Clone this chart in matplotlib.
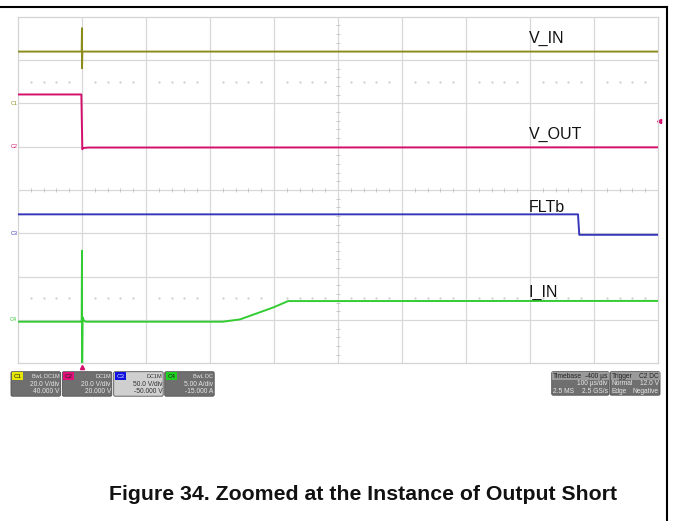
import matplotlib
matplotlib.use('Agg')
import matplotlib.pyplot as plt
from matplotlib.patches import FancyBboxPatch, Rectangle
from matplotlib.lines import Line2D

plt.rcParams['font.family'] = ['Liberation Sans', 'DejaVu Sans']

# time in microseconds (trigger at 0), values in V / A
t_vin = [-100, -0.5, 0, 0, 0.5, 900]
v_in = [23.9, 23.9, 34.7, 16.2, 23.9, 23.9]

t_vout = [-100, -1, 0.5, 2, 10, 900]
v_out = [24.1, 24.1, -1.2, -0.6, -0.4, -0.3]

t_flt = [-100, 775, 777, 900]
v_flt = [21.9, 21.9, -1.7, -1.7]

t_iin = [-100, -0.5, 0, 0, 1, 3, 6, 220, 247, 273, 299, 322, 900]
i_in = [-0.2, -0.2, 8.0, -9.0, 0.3, -0.1, -0.2, -0.2, 0.07, 0.76, 1.45, 2.18, 2.2]

# scope channel settings (volts or amps per division, offset)
ch_names = ['V_IN', 'V_OUT', 'FLTb', 'I_IN']
ch_scale = [20.0, 20.0, 50.0, 5.0]
ch_offset = [40.0, 20.0, -50.0, -15.0]
ch_colors = ['#8c8c1c', '#d4106c', '#3636b8', '#33cc33']
ch_tags = ['C1', 'C2', 'C3', 'C4']
trig_level = 12.0  # on C2

ch_header = ['BwL DC1M', 'DC1M', 'DC1M', 'BwL DC']
ch_vdiv = ['20.0 V/div', '20.0 V/div', '50.0 V/div', '5.00 A/div']
ch_offtxt = ['40.000 V', '20.000 V', '-50.000 V', '-15.000 A']


def to_div(vals, k):
    return [(v + ch_offset[k]) / ch_scale[k] for v in vals]


fig = plt.figure(figsize=(6.73, 5.21), dpi=100)
W, H = 673, 521

# overlay in pixel coordinates for the frame, status bar, caption
ov = fig.add_axes([0, 0, 1, 1])
ov.set_xlim(0, W)
ov.set_ylim(H, 0)
ov.axis('off')

# screen grid area
x0, x1, y0, y1 = 18, 658, 16.7, 363.3
ax = fig.add_axes([x0 / W, 1 - y1 / H, (x1 - x0) / W, (y1 - y0) / H])
ax.set_xlim(-100, 900)
ax.set_ylim(-4, 4)
ax.set_xticks([])
ax.set_yticks([])
for s in ax.spines.values():
    s.set_color('#d4d4d4')
    s.set_linewidth(0.9)

gc = '#d8d8d8'
for i in range(1, 10):
    ax.axvline(-100 + i * 100, color=gc, lw=0.9, zorder=1)
for j in range(-3, 4):
    ax.axhline(j, color=gc, lw=0.9, zorder=1)

# center line ticks and dotted rows
minor_t = [-100 + k * 20 for k in range(51) if k % 5 != 0]
ax.plot(minor_t, [0] * len(minor_t), '|', color='#c8c8c8', ms=3, mew=0.7, zorder=1)
minor_d = [-4 + k * 0.2 for k in range(41) if k % 5 != 0]
ax.plot([400] * len(minor_d), minor_d, '_', color='#c8c8c8', ms=3, mew=0.7, zorder=1)
for yy in (2.5, -2.5):
    ax.plot(minor_t, [yy] * len(minor_t), '.', color='#cccccc', ms=1.2, zorder=1)

series = [(t_vin, v_in), (t_vout, v_out), (t_flt, v_flt), (t_iin, i_in)]
for k, (tt, vv) in enumerate(series):
    ax.plot(tt, to_div(vv, k), color=ch_colors[k], lw=1.4, zorder=3)

label_pos = [3.39, 1.18, -0.5, -2.46]
for k in range(4):
    ax.text(698, label_pos[k], ch_names[k], fontsize=11.5, color='#111111',
            va='baseline', ha='left', zorder=4)

# channel ground markers on the left
for k in range(4):
    gy = ch_offset[k] / ch_scale[k]
    ax.text(-0.001, gy, ch_tags[k], transform=ax.get_yaxis_transform(),
            fontsize=4, color=ch_colors[k], ha='right', va='center', clip_on=False)

# trigger markers
ax.plot([1.002], [(trig_level + ch_offset[1]) / ch_scale[1]], marker='<', ms=3,
        color=ch_colors[1], transform=ax.get_yaxis_transform(), clip_on=False)
ax.plot([0], [-0.012], marker='^', ms=3, color=ch_colors[1],
        transform=ax.get_xaxis_transform(), clip_on=False)

# outer frame
ov.add_line(Line2D([0, 667], [7, 7], color='black', lw=1.5))
ov.add_line(Line2D([667, 667], [7, H], color='black', lw=1.5))

# status bar
box_x = [11, 62.3, 113.7, 164.7]
chip_c = ['#e6e600', '#e0107a', '#1010e0', '#20d020']
for k in range(4):
    bx = box_x[k]
    light = k == 2
    ov.add_patch(FancyBboxPatch((bx, 371.7), 49.5, 24.5, boxstyle='round,pad=0,rounding_size=1.5',
                                fc='#cfcfcf' if light else '#6f6f6f', ec='#505050', lw=0.6))
    ov.add_patch(Rectangle((bx + 1, 372.3), 11, 7.7, fc=chip_c[k], ec='none'))
    tc = '#303030' if light else '#e6e6e6'
    ov.text(bx + 6.5, 376.2, ch_tags[k], fontsize=4.5, color='#202020' if k != 2 else '#e0e0ff',
            ha='center', va='center')
    ov.text(bx + 48.5, 376.2, ch_header[k], fontsize=4, color=tc, ha='right', va='center')
    ov.text(bx + 48.5, 384.3, ch_vdiv[k], fontsize=4.8, color=tc, ha='right', va='center')
    ov.text(bx + 48.5, 391.8, ch_offtxt[k], fontsize=4.8, color=tc, ha='right', va='center')

tb_rows = [('Timebase', '-400 µs'), ('', '100 µs/div'), ('2.5 MS', '2.5 GS/s')]
tr_rows = [('Trigger', 'C2 DC'), ('Normal', '12.0 V'), ('Edge', 'Negative')]
for bx, bw, rows in [(551.7, 57.3, tb_rows), (610, 50, tr_rows)]:
    ov.add_patch(FancyBboxPatch((bx, 371.7), bw, 23.5, boxstyle='round,pad=0,rounding_size=1.5',
                                fc='#6f6f6f', ec='#505050', lw=0.6))
    ov.add_patch(Rectangle((bx + 0.5, 372.2), bw - 1, 7.5, fc='#9a9a9a', ec='none'))
    for r, (lt, rt) in enumerate(rows):
        yy = 376 + r * 7.6
        col = '#202020' if r == 0 else '#e6e6e6'
        ov.text(bx + 1.5, yy, lt, fontsize=4.8, color=col, ha='left', va='center')
        ov.text(bx + bw - 1.5, yy, rt, fontsize=4.8, color=col, ha='right', va='center')

# caption
ov.text(363, 494, 'Figure 34. Zoomed at the Instance of Output Short', fontsize=15.3,
        fontweight='bold', ha='center', va='center', color='#111111')

fig.savefig('out.png', dpi=100)
